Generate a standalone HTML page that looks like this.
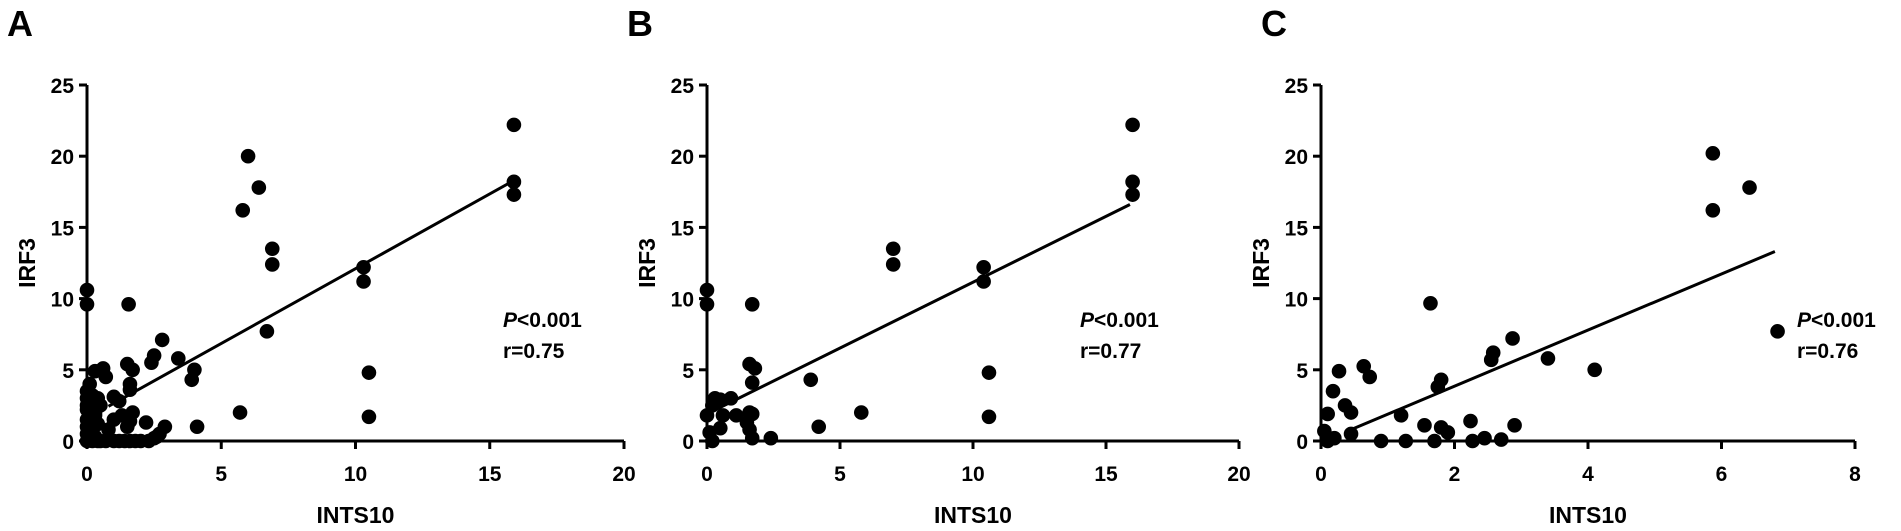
<!DOCTYPE html>
<html><head><meta charset="utf-8"><style>
html,body{margin:0;padding:0;background:#fff;}
svg{display:block;font-family:"Liberation Sans",Arial,sans-serif;font-weight:bold;}
</style></head><body>
<svg id="fig" width="1901" height="531" viewBox="0 0 1901 531" xmlns="http://www.w3.org/2000/svg"></svg>
<script>
// Panel A data
const aX = [0,0,1.55,6.0,6.4,5.8,6.9,6.9,6.7,10.3,10.3,10.5,10.5,15.9,15.9,15.9,5.7,4.1,2.9,2.8,2.5,2.4,3.4,3.9,4.0,1.5,1.6,1.6,1.7,0.6,0.3,1.0,0,0.1,0.2,0.1,0,0.2,0.3,0.5,1.2,1.0,1.5,1.7,2.2,0.5,1.0,1.4,1.8,2.3,2.5,0.8,0.3,0.7,0,0,0,0,0,0,0.1,0.2,0.3,0.3,0.4,0.4,0.2,0.4,0.7,1.2,1.6,2.0,2.6,2.7,1.3,1.6];
const aY = [10.6,9.6,9.6,20.0,17.8,16.2,13.5,12.4,7.7,12.2,11.2,4.8,1.7,22.2,18.2,17.3,2.0,1.0,1.0,7.1,6.0,5.5,5.8,4.3,5.0,5.4,4.0,3.6,5.0,5.1,4.9,3.1,0,0.3,0.5,1.5,2.2,3.2,2.8,2.5,2.8,1.5,1.0,2.0,1.3,0,0,0,0,0,0.2,0.8,1.8,4.5,0.5,1.0,1.5,2.5,3.0,3.5,4.0,1.0,0.3,2.0,3.0,1.2,0,0,0,0,0,0,0.3,0.5,1.8,1.4];
const aLine = [0.8, 15.9]; const aFit = [1.6, 1.05];
// Panel B data
const bX = [0,0,1.7,7.0,7.0,10.4,10.4,10.6,10.6,16,16,16,5.8,4.2,3.9,1.6,1.8,1.7,1.7,2.4,0,0.1,0.2,0.3,0.5,0.2,0.6,0.9,1.1,1.5,1.6,1.7,0.5,1.6];
const bY = [10.6,9.6,9.6,13.5,12.4,12.2,11.2,4.8,1.7,22.2,18.2,17.3,2.0,1.0,4.3,5.4,5.1,4.1,1.9,0.2,1.8,0.6,2.5,3.0,2.9,0,1.8,3.0,1.8,1.3,0.8,0.2,0.9,2.0];
const bLine = [0.3, 15.9]; const bFit = [1.9, 0.925];
// Panel C data
const cX = [1.64,5.87,6.42,5.87,6.84,2.87,2.58,2.55,3.4,4.1,1.8,1.75,0.64,0.73,0.27,0.18,0.36,0.45,0.1,1.2,2.24,2.9,1.55,1.8,1.9,0.9,1.27,1.7,2.27,2.45,2.7,0.2,0.05,0.45,0.1];
const cY = [9.67,20.2,17.8,16.2,7.7,7.2,6.2,5.7,5.8,5.0,4.3,3.8,5.25,4.5,4.9,3.5,2.5,2.0,1.9,1.8,1.4,1.1,1.1,0.95,0.6,0,0,0,0,0.2,0.1,0.2,0.7,0.5,0];
const cLine = [0.45, 6.8]; const cFit = [-0.09, 1.97];
const yTicks = [0,5,10,15,20,25];
const abTicks = [0,5,10,15,20];
const cTicks = [0,2,4,6,8];
const stats = [["<0.001","r=0.75"],["<0.001","r=0.77"],["<0.001","r=0.76"]];

const NS="http://www.w3.org/2000/svg";
const svg=document.getElementById('fig');
function mk(tag,attrs,parent){const e=document.createElementNS(NS,tag);for(const k in attrs)e.setAttribute(k,attrs[k]);(parent||svg).appendChild(e);return e;}

function panel(idx,letter,letterX,x0,x1,xmax,xs,ys,xticks,line,fit,statX){
  const y0=441,y1=85,ymax=25;
  const sx=v=>x0+(x1-x0)*v/xmax;
  const sy=v=>y0-(y0-y1)*v/ymax;
  const g=mk('g',{});
  
  
  const L=mk('text',{x:letterX,y:36,'font-size':36},g);L.textContent=letter;
  
  
  const ya=mk('line',{x1:x0,y1:y1,x2:x0,y2:y0+1.5,stroke:'#000','stroke-width':3},g);
  
  
  const xa=mk('line',{x1:x0-1.5,y1:y0,x2:x1,y2:y0,stroke:'#000','stroke-width':3},g);
  
  
  yTicks.forEach(t=>{
    mk('line',{x1:x0-8,y1:sy(t),x2:x0,y2:sy(t),stroke:'#000','stroke-width':3},g);
    const tx=mk('text',{x:x0-13,y:sy(t)+8,'font-size':21,'text-anchor':'end'},g);tx.textContent=t;
    
    
  });
  xticks.forEach(t=>{
    mk('line',{x1:sx(t),y1:y0,x2:sx(t),y2:y0+8,stroke:'#000','stroke-width':3},g);
    const tx=mk('text',{x:sx(t),y:481,'font-size':21,'text-anchor':'middle'},g);tx.textContent=t;
    
    
  });
  const xt=mk('text',{x:(x0+x1)/2,y:523,'font-size':23,'text-anchor':'middle'},g);xt.textContent='INTS10';
  
  
  const yt=mk('text',{x:0,y:0,'font-size':23,'text-anchor':'middle',transform:`translate(${x0-52},${(y0+y1)/2}) rotate(-90)`},g);yt.textContent='IRF3';
  
  
  xs.forEach((v,i)=>{
    const c=mk('circle',{cx:sx(v),cy:sy(ys[i]),r:7.3,fill:'#000'},g);
    
    
  });
  const rl=mk('line',{x1:sx(line[0]),y1:sy(fit[0]+fit[1]*line[0]),x2:sx(line[1]),y2:sy(fit[0]+fit[1]*line[1]),stroke:'#000','stroke-width':3},g);
  
  
  const p=mk('text',{x:statX,y:327,'font-size':21},g);
  
  
  const it=mk('tspan',{'font-style':'italic'},p);it.textContent='P';
  const rest=mk('tspan',{},p);rest.textContent=stats[idx][0];
  const r=mk('text',{x:statX,y:358,'font-size':21},g);r.textContent=stats[idx][1];
  
  
}
panel(0,'A',7,87,624,20,aX,aY,abTicks,aLine,aFit,503);
panel(1,'B',627,707,1239,20,bX,bY,abTicks,bLine,bFit,1080);
panel(2,'C',1261,1321,1855,8,cX,cY,cTicks,cLine,cFit,1797);
</script>
</body></html>
